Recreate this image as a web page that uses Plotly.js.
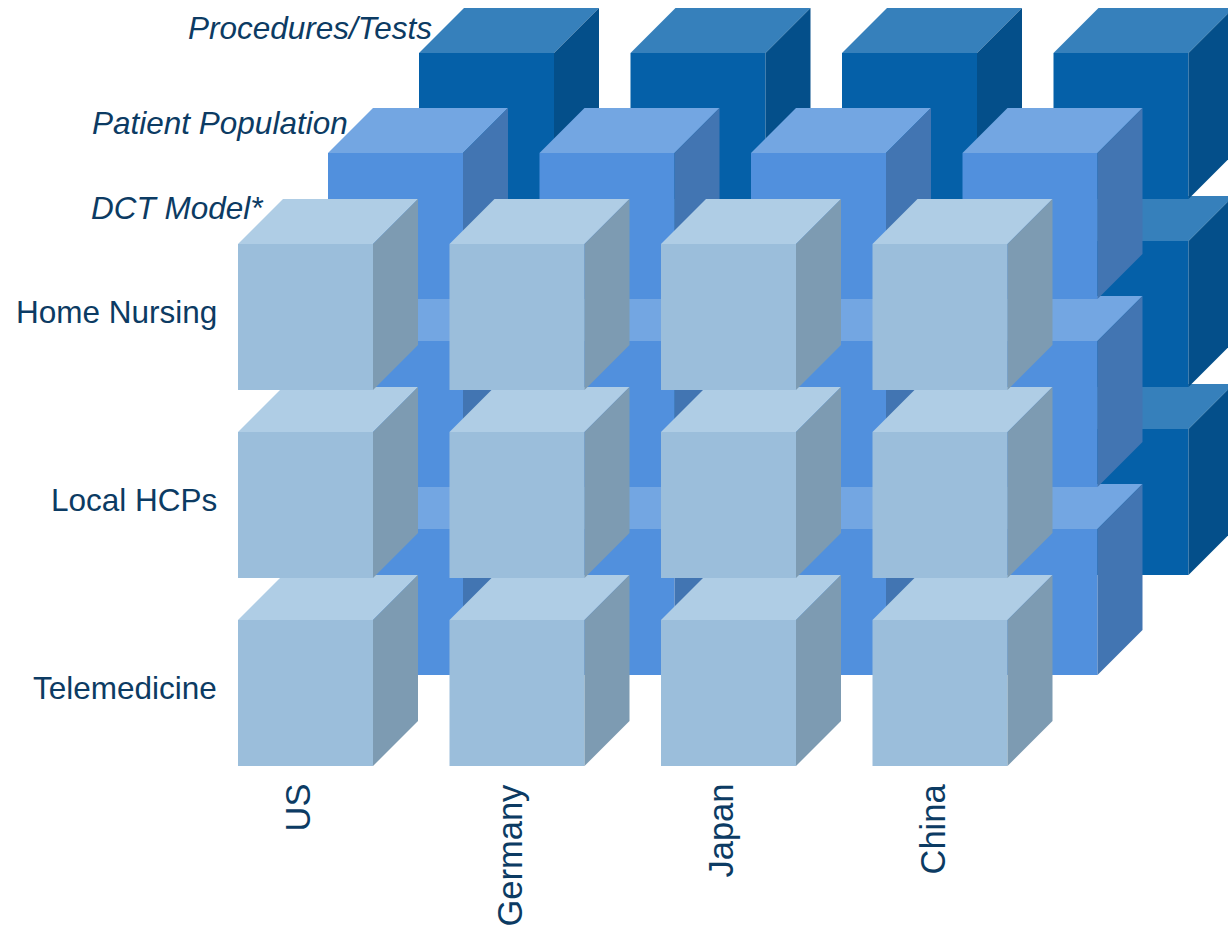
<!DOCTYPE html>
<html>
<head>
<meta charset="utf-8">
<script src="https://cdn.plot.ly/plotly-3.0.1.min.js"></script>
<style>
  html, body { margin: 0; padding: 0; background: #ffffff; overflow: hidden; }
  #chart { width: 1228px; height: 930px; }
</style>
</head>
<body>
<div id="chart"></div>
<script>
// Categories of the cube matrix
const countries = ['US', 'Germany', 'Japan', 'China'];
const services = ['Home Nursing', 'Local HCPs', 'Telemedicine'];
// Depth layers, front to back
const dimensions = ['DCT Model*', 'Patient Population', 'Procedures/Tests'];

// Face colours for each depth layer: [front, top, side]
const layerColors = [
  ['#9bbedb', '#afcde5', '#7d9bb2'],
  ['#5190dd', '#73a6e2', '#4275b2'],
  ['#0560a8', '#3680bb', '#044f8a']
];
const textColor = '#0c3b63';
const fontFamily = 'Liberation Sans, Arial, sans-serif';

// Oblique projection geometry (axis units equal screen pixels)
const geom = {
  x0: 238, y0: 244,          // front-face corner of the first cube in the front layer
  colStep: 211.5, rowStep: 188,
  w: 135, h: 146, d: 45,     // cube face width / height / depth offset
  layerDx: [0, 90, 181],
  layerDy: [0, -91, -191]
};

function cubeOrigin(c, r, L) {
  return [
    geom.x0 + c * geom.colStep + geom.layerDx[L],
    geom.y0 + r * geom.rowStep + geom.layerDy[L]
  ];
}

function face(xs, ys, color) {
  return {
    type: 'scatter', mode: 'lines',
    x: xs.concat([xs[0]]), y: ys.concat([ys[0]]),
    fill: 'toself', fillcolor: color,
    line: { width: 0, color: color },
    hoverinfo: 'skip', showlegend: false
  };
}

const traces = [];
// Painter's order: back layer first, bottom rows before upper rows
for (let L = dimensions.length - 1; L >= 0; L--) {
  const [cFront, cTop, cSide] = layerColors[L];
  for (let r = services.length - 1; r >= 0; r--) {
    for (let c = 0; c < countries.length; c++) {
      const [x, y] = cubeOrigin(c, r, L);
      const { w, h, d } = geom;
      traces.push(face([x, x + w, x + w, x], [y, y, y + h, y + h], cFront));
      traces.push(face([x, x + d, x + w + d, x + w], [y, y - d, y - d, y], cTop));
      traces.push(face([x + w, x + w + d, x + w + d, x + w], [y, y - d, y + h - d, y + h], cSide));
    }
  }
}

const annotations = [];
// Row labels (services)
services.forEach((s, r) => {
  const [x, y] = cubeOrigin(0, r, 0);
  annotations.push({
    x: x - 19, y: y + geom.h / 2 - 5, xref: 'x', yref: 'y',
    text: s, showarrow: false, xanchor: 'right', yanchor: 'middle',
    font: { family: fontFamily, size: 31.5, color: textColor }
  });
});
// Column labels (countries), rotated
countries.forEach((name, c) => {
  const [x, y] = cubeOrigin(c, services.length - 1, 0);
  annotations.push({
    x: x + geom.w / 2 - 8, y: y + geom.h + 16, xref: 'x', yref: 'y',
    text: name, showarrow: false, textangle: -90, xanchor: 'center', yanchor: 'top',
    font: { family: fontFamily, size: 34.5, color: textColor }
  });
});
// Depth layer labels (italic), beside each layer's first cube
dimensions.forEach((name, L) => {
  const [x, y] = cubeOrigin(0, 0, L);
  annotations.push({
    x: x + 28 - 6.5 * L, y: y - 36 + 5.5 * L, xref: 'x', yref: 'y',
    text: '<i>' + name + '</i>', showarrow: false, xanchor: 'right', yanchor: 'middle',
    font: { family: fontFamily, size: 31.5, color: textColor }
  });
});

const layout = {
  width: 1228, height: 930,
  margin: { l: 0, r: 0, t: 0, b: 0 },
  paper_bgcolor: '#ffffff', plot_bgcolor: '#ffffff',
  showlegend: false, hovermode: false,
  xaxis: { range: [0, 1228], visible: false, fixedrange: true },
  yaxis: { range: [930, 0], visible: false, fixedrange: true },
  annotations: annotations
};

Plotly.newPlot('chart', traces, layout, { displayModeBar: false, staticPlot: true });
</script>
</body>
</html>
